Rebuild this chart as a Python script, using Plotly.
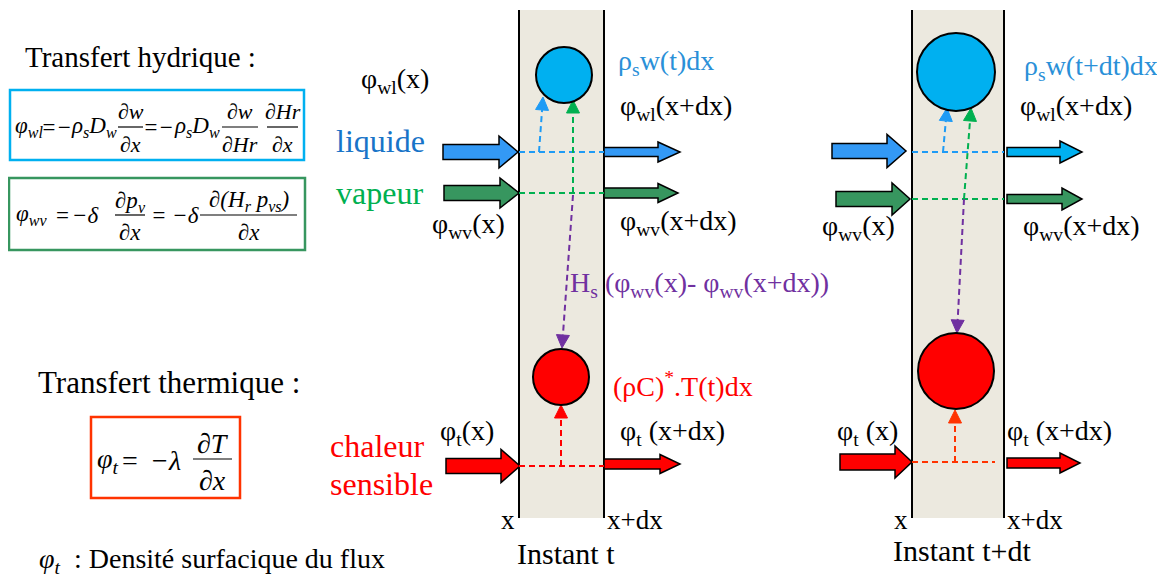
import math
import plotly.graph_objects as go

W, H = 1165, 578
OFF = 8  # page body margin; axis ranges shifted so data units = window pixels
SERIF = "Liberation Serif"

# ---------------- data (diagram content) ----------------
PANEL_LABELS = ["Instant t", "Instant t+dt"]
WALL_X0 = [519, 912]
WALL_X1 = [604, 1004]
WALL_Y = [10, 518]
WATER_CX = [564, 956]
WATER_CY = [75, 72]
WATER_R = [28, 39]
HEAT_CX = [561, 956]
HEAT_CY = [377, 371]
HEAT_R = [28, 38]
WATER_LABELS = ["ρ<sub>s</sub>w(t)dx", "ρ<sub>s</sub>w(t+dt)dx"]
HEAT_LABEL = "(ρC)<sup>*</sup>.T(t)dx"
LATENT_LABEL = "H<sub>s</sub> (φ<sub>wv</sub>(x)- φ<sub>wv</sub>(x+dx))"
ROW_NAMES = ["liquide", "vapeur", "chaleur", "sensible"]

# block arrows: (x0, x1, y, shaft height, head height, head start x)
LIQ_IN = [(443, 518, 152, 15, 32, 499), (832, 906, 151, 15, 33, 887)]
LIQ_OUT = [(604, 680, 152, 9, 20, 658), (1007, 1082, 152, 9, 22, 1060)]
VAP_IN = [(444, 519, 193, 15, 30, 500), (836, 910, 199, 15, 32, 892)]
VAP_OUT = [(604, 678, 193, 10, 19, 658), (1007, 1082, 199, 9, 22, 1062)]
HEAT_IN = [(446, 520, 466, 15, 33, 501), (840, 912, 462, 16, 32, 895)]
HEAT_OUT = [(604, 680, 464, 10, 19, 660), (1007, 1080, 463, 10, 20, 1060)]

# dashed links: (x0, y0, x1, y1)
LIQ_H = [(519, 152, 604, 152), (912, 152, 1004, 152)]
LIQ_V = [(539, 152, 543, 97), (943, 152, 947, 108)]
VAP_H = [(519, 193, 604, 193), (912, 199, 1004, 199)]
VAP_V = [(573, 193, 573, 100), (964, 199, 971, 108)]
LAT_V = [(573, 195, 562, 348), (964, 199, 957, 333)]
HEAT_H = [(519, 466, 604, 466), (912, 462, 995, 462)]
HEAT_V = [(561, 466, 561, 405), (955, 462, 955, 410)]

# ---------------- colours ----------------
BEIGE = "#ECE9DF"
C_WATER = "#00B0F0"
C_LIQ_ARROW = "#3399F5"
C_VAP_ARROW = "#37965F"
C_VAP_DASH = "#00B050"
C_LIQ_DASH = "#1E9BF5"
C_PURPLE = "#7030A0"
C_RED = "#FF0000"
C_RED2 = "#FF3300"
C_BLUE_TXT = "#2A90D8"
C_LIQ_TXT = "#1874C8"

shapes = []
annotations = []


def text(x, y, s, size=28, color="black", xanchor="left", italic=False):
    if italic:
        s = "<i>" + s + "</i>"
    annotations.append(dict(x=x, y=y, xref="x", yref="y", text=s, showarrow=False,
                            xanchor=xanchor, yanchor="middle", borderpad=0,
                            font=dict(family=SERIF, size=size, color=color)))


def line(x0, y0, x1, y1, color, width=2, dash="solid"):
    shapes.append(dict(type="line", x0=x0, y0=y0, x1=x1, y1=y1,
                       line=dict(color=color, width=width, dash=dash)))


def block_arrow(spec, color):
    x0, x1, y, sh, hh, hx = spec
    p = (f"M {x0},{y - sh/2} L {hx},{y - sh/2} L {hx},{y - hh/2} L {x1},{y} "
         f"L {hx},{y + hh/2} L {hx},{y + sh/2} L {x0},{y + sh/2} Z")
    shapes.append(dict(type="path", path=p, fillcolor=color,
                       line=dict(color="black", width=1.5)))


DASH = "6px,4px"


def dashed(spec, color):
    x0, y0, x1, y1 = spec
    line(x0, y0, x1, y1, color, 2, DASH)


def dashed_arrow(spec, color, L=13, hw=6.5):
    x0, y0, x1, y1 = spec
    dx, dy = x1 - x0, y1 - y0
    d = math.hypot(dx, dy)
    ux, uy = dx / d, dy / d
    bx, by = x1 - ux * L, y1 - uy * L
    line(x0, y0, bx, by, color, 2, DASH)
    p = (f"M {x1},{y1} L {bx - uy*hw},{by + ux*hw} L {bx + uy*hw},{by - ux*hw} Z")
    shapes.append(dict(type="path", path=p, fillcolor=color, line=dict(color=color, width=1)))


def circle(cx, cy, r, color):
    shapes.append(dict(type="circle", x0=cx - r, x1=cx + r, y0=cy - r, y1=cy + r,
                       fillcolor=color, line=dict(color="black", width=2)))


def fraction(x0, x1, y_line, num, den, size=25, up=16, down=17):
    xc = (x0 + x1) / 2
    line(x0, y_line, x1, y_line, "black", 1.2)
    text(xc, y_line - up, num, size, xanchor="center", italic=True)
    text(xc, y_line + down, den, size, xanchor="center", italic=True)


# ---------------- panels ----------------
for i in range(2):
    x0, x1 = WALL_X0[i], WALL_X1[i]
    shapes.append(dict(type="rect", x0=x0, x1=x1, y0=WALL_Y[0], y1=WALL_Y[1],
                       fillcolor=BEIGE, line=dict(width=0)))
    line(x0, WALL_Y[0], x0, WALL_Y[1], "black", 2)
    line(x1, WALL_Y[0], x1, WALL_Y[1], "black", 2)

    block_arrow(LIQ_IN[i], C_LIQ_ARROW)
    block_arrow(LIQ_OUT[i], C_LIQ_ARROW if i == 0 else C_WATER)
    block_arrow(VAP_IN[i], C_VAP_ARROW)
    block_arrow(VAP_OUT[i], C_VAP_ARROW)
    block_arrow(HEAT_IN[i], C_RED)
    block_arrow(HEAT_OUT[i], C_RED)

    dashed(LIQ_H[i], C_LIQ_DASH)
    dashed_arrow(LIQ_V[i], C_LIQ_DASH)
    dashed(VAP_H[i], C_VAP_DASH)
    dashed_arrow(VAP_V[i], C_VAP_DASH)
    dashed_arrow(LAT_V[i], C_PURPLE)
    dashed(HEAT_H[i], C_RED if i == 0 else C_RED2)
    dashed_arrow(HEAT_V[i], C_RED if i == 0 else C_RED2)

    circle(WATER_CX[i], WATER_CY[i], WATER_R[i], C_WATER)
    circle(HEAT_CX[i], HEAT_CY[i], HEAT_R[i], C_RED)

    text(x0 - 3, 520, "x", 27, xanchor="right")
    text(x1 + 2, 520, "x+dx", 27)

# middle panel labels
text(360, 80, "φ<sub>wl</sub>(x)", 28)
text(617, 62, WATER_LABELS[0], 28, C_BLUE_TXT)
text(619, 107, "φ<sub>wl</sub>(x+dx)", 28)
text(431, 225, "φ<sub>wv</sub>(x)", 28)
text(619, 222, "φ<sub>wv</sub>(x+dx)", 28)
text(569, 284, LATENT_LABEL, 28, C_PURPLE)
text(612, 384, HEAT_LABEL, 28, C_RED)
text(439, 432, "φ<sub>t</sub>(x)", 28)
text(619, 432, "φ<sub>t</sub> (x+dx)", 28)
text(516, 553, PANEL_LABELS[0], 30)

# right panel labels
text(1023, 67, WATER_LABELS[1], 28, C_BLUE_TXT)
text(1019, 107, "φ<sub>wl</sub>(x+dx)", 28)
text(821, 227, "φ<sub>wv</sub>(x)", 28)
text(1022, 227, "φ<sub>wv</sub>(x+dx)", 28)
text(836, 432, "φ<sub>t</sub> (x)", 28)
text(1006, 432, "φ<sub>t</sub> (x+dx)", 28)
text(892, 550, PANEL_LABELS[1], 30)

# row names
text(335, 141, ROW_NAMES[0], 32, C_LIQ_TXT)
text(335, 193, ROW_NAMES[1], 32, C_VAP_DASH)
text(329, 446, ROW_NAMES[2], 32, C_RED)
text(329, 484, ROW_NAMES[3], 32, C_RED)

# ---------------- left: equations ----------------
text(24, 57, "Transfert hydrique :", 29)
shapes.append(dict(type="rect", x0=10, x1=304, y0=90, y1=160, line=dict(color=C_WATER, width=2.5)))
FS = 23
FF = 22
text(29, 127, "φ<sub>wl</sub>", FS, xanchor="center", italic=True)
text(56, 127, "=−", FS, xanchor="center", italic=True)
text(94, 127, "ρ<sub>s</sub>D<sub>w</sub>", FS, xanchor="center", italic=True)
fraction(118, 143, 127, "∂w", "∂x", FF, 16, 17)
text(158, 127, "=−", FS, xanchor="center", italic=True)
text(197, 127, "ρ<sub>s</sub>D<sub>w</sub>", FS, xanchor="center", italic=True)
fraction(222, 258, 127, "∂w", "∂Hr", FF, 16, 17)
fraction(267, 298, 127, "∂Hr", "∂x", FF, 16, 17)

shapes.append(dict(type="rect", x0=9, x1=305, y0=178, y1=250, line=dict(color=C_VAP_ARROW, width=2.5)))
text(31, 215, "φ<sub>wv</sub>", FS, xanchor="center", italic=True)
text(62, 215, "=", FS, xanchor="center")
text(85, 215, "−δ", FS, xanchor="center", italic=True)
fraction(115, 145, 215, "∂p<sub>v</sub>", "∂x", FS, 13, 17)
text(175, 215, "= −δ", FS, xanchor="center", italic=True)
fraction(200, 297, 215, "∂(H<sub>r</sub> p<sub>vs</sub>)", "∂x", FS, 14, 17)

text(37, 382, "Transfert thermique :", 31)
shapes.append(dict(type="rect", x0=91, x1=240, y0=417, y1=498, line=dict(color=C_RED2, width=2.5)))
text(108, 460, "φ<sub>t</sub>", 28, xanchor="center", italic=True)
text(130, 460, "=", 28, xanchor="center")
text(165, 460, "−λ", 28, xanchor="center", italic=True)
fraction(193, 232, 459, "∂T", "∂x", 28, 16, 21)

text(38, 560, "<i>φ<sub>t</sub></i>  : Densité surfacique du flux", 28)

fig = go.Figure()
fig.update_layout(
    width=W, height=H, margin=dict(l=0, r=0, t=0, b=0),
    paper_bgcolor="white", plot_bgcolor="white",
    xaxis=dict(range=[OFF, W + OFF], visible=False, fixedrange=True),
    yaxis=dict(range=[H + OFF, OFF], visible=False, fixedrange=True),
    shapes=shapes, annotations=annotations, showlegend=False,
)
fig.write_html("out.html", config={"displayModeBar": False})
